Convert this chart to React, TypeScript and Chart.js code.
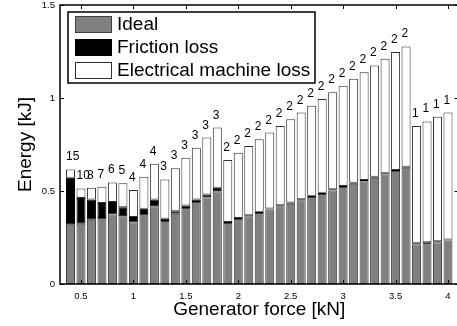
import { useEffect, useRef } from "react";
import { Chart, registerables } from "chart.js";

Chart.register(...registerables);

const generatorForce = [
  0.4, 0.5, 0.6, 0.7, 0.8, 0.9, 1.0, 1.1, 1.2, 1.3, 1.4, 1.5, 1.6, 1.7, 1.8, 1.9,
  2.0, 2.1, 2.2, 2.3, 2.4, 2.5, 2.6, 2.7, 2.8, 2.9, 3.0, 3.1, 3.2, 3.3, 3.4, 3.5,
  3.6, 3.7, 3.8, 3.9, 4.0,
];

const idealEnergy = [
  0.319, 0.324, 0.346, 0.355, 0.373, 0.364, 0.331, 0.377, 0.418, 0.339, 0.378, 0.409,
  0.441, 0.467, 0.499, 0.328, 0.349, 0.364, 0.382, 0.4, 0.418, 0.432, 0.45, 0.468,
  0.484, 0.503, 0.521, 0.539, 0.553, 0.571, 0.589, 0.607, 0.625, 0.214, 0.22, 0.225,
  0.234,
];

const frictionLoss = [
  0.252, 0.139, 0.108, 0.081, 0.068, 0.049, 0.029, 0.028, 0.036, 0.012, 0.013, 0.013,
  0.013, 0.014, 0.018, 0.006, 0.006, 0.006, 0.006, 0.006, 0.006, 0.006, 0.006, 0.006,
  0.006, 0.006, 0.006, 0.006, 0.006, 0.006, 0.006, 0.006, 0.006, 0.005, 0.005, 0.005,
  0.005,
];

const totalEnergy = [
  0.616, 0.514, 0.517, 0.523, 0.546, 0.541, 0.506, 0.577, 0.647, 0.562, 0.622, 0.679,
  0.733, 0.787, 0.841, 0.667, 0.706, 0.742, 0.778, 0.814, 0.85, 0.886, 0.922, 0.958,
  0.995, 1.031, 1.066, 1.103, 1.139, 1.175, 1.211, 1.247, 1.277, 0.85, 0.874, 0.899,
  0.922,
];

const barLabels = [
  15, 10, 8, 7, 6, 5, 4, 4, 4, 3, 3, 3, 3, 3, 3, 2, 2, 2, 2, 2, 2, 2, 2, 2, 2, 2, 2, 2,
  2, 2, 2, 2, 2, 1, 1, 1, 1,
];

const seriesNames = ["Ideal", "Friction loss", "Electrical machine loss"];
const xTickValues = [0.5, 1, 1.5, 2, 2.5, 3, 3.5, 4];
const yTickValues = [0, 0.5, 1, 1.5];

const FONT = '"Liberation Sans", Arial, Helvetica, sans-serif';

const decorPlugin = {
  id: "decor",
  afterDatasetsDraw(chart: any) {
    const ctx = chart.ctx;
    const meta = chart.getDatasetMeta(2);
    ctx.save();
    ctx.font = `12px ${FONT}`;
    ctx.fillStyle = "#000";
    ctx.textAlign = "left";
    ctx.textBaseline = "alphabetic";
    meta.data.forEach((el: any, i: number) => {
      const p = el.getProps(["x", "y", "width"], true);
      ctx.fillText(String(barLabels[i]), p.x - p.width / 2, p.y - 9);
    });
    ctx.restore();
  },
  afterDraw(chart: any) {
    const ctx = chart.ctx;
    const a = chart.chartArea;
    const xs = chart.scales.x;
    const ys = chart.scales.y;
    ctx.save();
    ctx.strokeStyle = "#000";
    ctx.lineWidth = 1.5;
    ctx.strokeRect(a.left, a.top, a.right - a.left, a.bottom - a.top);
    ctx.lineWidth = 1;
    const tl = 4;
    ctx.beginPath();
    xTickValues.forEach((v) => {
      const px = Math.round(xs.getPixelForValue(v)) + 0.5;
      ctx.moveTo(px, a.bottom);
      ctx.lineTo(px, a.bottom - tl);
      ctx.moveTo(px, a.top);
      ctx.lineTo(px, a.top + tl);
    });
    yTickValues.forEach((v) => {
      const py = Math.round(ys.getPixelForValue(v)) + 0.5;
      ctx.moveTo(a.left, py);
      ctx.lineTo(a.left + tl, py);
      ctx.moveTo(a.right, py);
      ctx.lineTo(a.right - tl, py);
    });
    ctx.stroke();

    // legend
    const lx = 68, ly = 12, lw = 247, lh = 71;
    ctx.fillStyle = "#fff";
    ctx.fillRect(lx, ly, lw, lh);
    ctx.lineWidth = 1.5;
    ctx.strokeStyle = "#000";
    ctx.strokeRect(lx, ly, lw, lh);
    ctx.font = `19px ${FONT}`;
    ctx.textAlign = "left";
    ctx.textBaseline = "middle";
    chart.data.datasets.forEach((ds: any, i: number) => {
      const sy = 16 + i * 23;
      ctx.fillStyle = ds.backgroundColor;
      ctx.fillRect(75, sy, 37, 17);
      ctx.lineWidth = 1;
      ctx.strokeStyle = ds.borderColor;
      ctx.strokeRect(75.5, sy + 0.5, 36, 16);
      ctx.fillStyle = "#000";
      ctx.fillText(ds.label, 117, sy + 9);
    });
    ctx.restore();
  },
};

export default function App() {
  const ref = useRef<HTMLCanvasElement | null>(null);
  useEffect(() => {
    if (!ref.current) return;
    const mk = (vals: number[]) => vals.map((y, i) => ({ x: generatorForce[i], y }));
    const electrical = totalEnergy.map((t, i) => t - idealEnergy[i] - frictionLoss[i]);
    const common = {
      borderWidth: 1,
      borderSkipped: false,
      categoryPercentage: 1,
      barPercentage: 0.86,
      stack: "s",
    };
    const chart = new Chart(ref.current, {
      type: "bar",
      data: {
        datasets: [
          { ...common, label: seriesNames[0], data: mk(idealEnergy), backgroundColor: "#808080", borderColor: "#404040" },
          { ...common, label: seriesNames[1], data: mk(frictionLoss), backgroundColor: "#000000", borderColor: "#000000" },
          { ...common, label: seriesNames[2], data: mk(electrical), backgroundColor: "#ffffff", borderColor: "#303030" },
        ],
      } as any,
      options: {
        responsive: false,
        animation: false,
        layout: { padding: { left: 0, right: 2.5, top: 5, bottom: 0 } },
        plugins: { legend: { display: false }, tooltip: { enabled: false } },
        scales: {
          x: {
            type: "linear",
            stacked: true,
            offset: false,
            min: 0.3,
            max: 4.1,
            grid: { display: false, drawTicks: false, offset: false },
            border: { display: false },
            afterBuildTicks: (s: any) => {
              s.ticks = xTickValues.map((v) => ({ value: v }));
            },
            afterFit: (s: any) => {
              s.height = 42;
              s.paddingLeft = 0;
              s.paddingRight = 0;
            },
            ticks: {
              padding: 7,
              maxRotation: 0,
              autoSkip: false,
              color: "#000",
              font: { family: FONT, size: 9.5 },
              callback: (v: any) => String(v),
            },
            title: {
              display: true,
              text: "Generator force [kN]",
              color: "#000",
              font: { family: FONT, size: 19 },
              padding: { top: 0, bottom: 5 },
            },
          },
          y: {
            type: "linear",
            stacked: true,
            min: 0,
            max: 1.5,
            grid: { display: false, drawTicks: false },
            border: { display: false },
            afterBuildTicks: (s: any) => {
              s.ticks = yTickValues.map((v) => ({ value: v }));
            },
            afterFit: (s: any) => {
              s.width = 60;
              s.paddingTop = 0;
              s.paddingBottom = 0;
            },
            ticks: {
              padding: 5,
              color: "#000",
              font: { family: FONT, size: 9.5 },
              callback: (v: any) => String(v),
            },
            title: {
              display: true,
              text: "Energy [kJ]",
              color: "#000",
              font: { family: FONT, size: 19 },
              padding: { top: 14.5, bottom: 0 },
            },
          },
        },
      } as any,
      plugins: [decorPlugin],
    });
    return () => chart.destroy();
  }, []);
  return (
    <div style={{ position: "fixed", left: 0, top: 0, width: 457, height: 326, overflow: "hidden", background: "#fff" }}>
      <canvas ref={ref} width={461} height={326} style={{ display: "block", width: 461, height: 326 }} />
    </div>
  );
}
